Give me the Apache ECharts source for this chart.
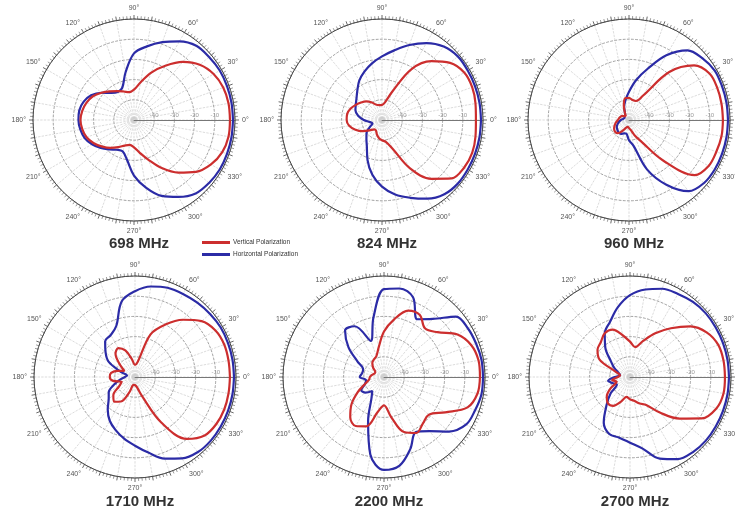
<!DOCTYPE html>
<html>
<head>
<meta charset="utf-8">
<script src="https://cdn.jsdelivr.net/npm/echarts@6/dist/echarts.min.js"></script>
<style>
html, body { margin: 0; padding: 0; background: #fff; }
#chart { width: 735px; height: 512px; }
</style>
</head>
<body>
<div id="chart"></div>
<script>
// azimuth in degrees, level in dB (0 = peak)
const angles = [0, 10, 20, 30, 40, 50, 60, 70, 80, 90, 100, 110, 120, 130, 140, 150, 160, 170,
  180, 190, 200, 210, 220, 230, 240, 250, 260, 270, 280, 290, 300, 310, 320, 330, 340, 350]

const freqs = ['698 MHz', '824 MHz', '960 MHz', '1710 MHz', '2200 MHz', '2700 MHz']

const vert698 = [-2.5, -2.5, -3, -4.5, -7.5, -12.5, -19, -25, -31, -35, -36, -35, -33.5, -31.5, -29, -26.5, -25, -24,
  -23.5, -24, -25, -27, -29.5, -32, -34.5, -36.5, -37.5, -36.5, -33.5, -29, -22.5, -16, -10, -6, -3.5, -2.5]
const horz698 = [-1, -1, -1, -1, -1.5, -2, -5, -9, -13, -17, -26, -33, -34, -32.5, -29, -25.5, -23.5, -22.5,
  -22.5, -23, -24, -26, -28.5, -31, -33, -33.5, -30, -22.5, -16, -10, -6, -2.5, -1.5, -1, -1, -1]

const vert824 = [-3.5, -3, -2.5, -3, -6, -12, -21, -35, -41, -42.5, -42.5, -42, -40, -38, -36.5, -35, -33.5, -32.5,
  -32.5, -33.5, -36, -39, -42, -44, -44, -42.5, -41, -40, -39, -35, -22.5, -12, -5, -3, -2.5, -3]
const horz824 = [-1, -1, -1, -1, -1, -2.5, -6, -10.5, -15, -18.5, -21.5, -24.5, -27.5, -31, -33.5, -35, -36, -38,
  -41, -44, -45, -43, -40, -38, -35, -29, -22.5, -17, -12.5, -9, -5, -2, -1, -1, -1, -1]

const vert960 = [-3.5, -3.5, -3.5, -4, -8, -19, -36, -40, -40, -39, -39, -42.5, -46, -47.5, -47, -46, -45.5, -45,
  -44.5, -43.5, -42.5, -41.5, -41, -41.5, -44, -46, -46.5, -46, -45, -42, -37.5, -24, -7.5, -4.5, -4, -3.5]
const horz960 = [-1, -1, -1, -1, -2.5, -5, -13, -23, -30, -36, -40, -43, -46, -47, -47, -47.5, -47.5, -47,
  -46, -45, -44, -43, -42.5, -42, -42, -43, -43, -40, -37, -24, -13, -4, -1.5, -1, -1, -1]

const vert1710 = [-3, -3, -3, -4, -7, -13, -20, -27.5, -42.5, -44, -41, -36, -33.5, -35, -40, -44, -41, -38,
  -37.5, -39, -43, -41, -36, -34, -36, -42, -46, -46, -45, -40, -24, -10, -5, -3.5, -3, -3]
const horz1710 = [-1, -1, -1, -1, -1.5, -2, -2.5, -3, -4.5, -7.5, -12, -23, -26, -27, -31, -35, -42.5, -46,
  -45, -42.5, -39, -35, -33, -29, -25, -22, -19, -16, -12, -7, -3.5, -1.5, -1, -1, -1, -1]

const vert2200 = [-2.5, -2.5, -4, -8, -15.5, -18.5, -14.5, -15, -21, -27.5, -35, -39, -40, -41, -43, -45, -45, -44,
  -43, -42.5, -40, -35, -29, -24, -22, -24, -32.5, -36, -30, -21, -18, -20, -21, -15, -6, -3]
const horz2200 = [-1, -1, -1.5, -2, -3.5, -12.5, -17, -8, -5.5, -6.5, -20, -31, -21, -20, -27, -35, -39, -39,
  -38, -41, -40, -37, -38, -41, -37.5, -27, -11, -4, -5.5, -12, -18.5, -15, -8, -3, -2, -1]

const vert2700 = [-3, -3, -3.5, -6, -11, -18.5, -25, -31, -35, -32.5, -29, -25, -25, -27.5, -29, -32.5, -42.5, -45,
  -44, -41, -43, -39, -35, -33, -33.5, -37, -40, -39, -38, -36, -34, -27, -18, -9, -4.5, -3]
const horz2700 = [-1, -1, -1, -1, -1, -1.5, -2.5, -3.5, -6, -9.5, -15, -21, -25, -31, -37.5, -41, -44, -45,
  -42.5, -39, -41, -42.5, -37.5, -32, -24, -20, -19.5, -17.5, -14, -7, -3, -1.5, -1, -1, -1, -1]

const vertData = [vert698, vert824, vert960, vert1710, vert2200, vert2700]
const horzData = [horz698, horz824, horz960, horz1710, horz2200, horz2700]

// layout of the six plots
const centers = [[134, 120], [382, 120], [629, 120], [135, 377], [384, 377], [630, 377]]
const plotRadius = 101
const titleTops = [231, 231, 231, 489, 489, 489]

function toPolar(vals) {
  const pts = angles.map((a, i) => [vals[i], a])
  pts.push([vals[0], 360])
  return pts
}

const chart = echarts.init(document.getElementById('chart'))

const polar = []
const angleAxis = []
const radiusAxis = []
const series = []
const title = []

centers.forEach((c, i) => {
  polar.push({ center: c, radius: plotRadius })
  angleAxis.push({
    polarIndex: i,
    type: 'value',
    min: 0,
    max: 360,
    interval: 10,
    startAngle: 0,
    clockwise: false,
    axisLine: { lineStyle: { color: '#444', width: 1 } },
    axisTick: { show: true, length: 4, lineStyle: { color: '#444', width: 0.8 } },
    minorTick: { show: true, splitNumber: 5, length: 3, lineStyle: { color: '#555', width: 0.6 } },
    axisLabel: {
      margin: 7,
      fontSize: 7,
      color: '#555',
      formatter: function(v) {
        return (v % 30 === 0 && v !== 360) ? v + '°' : ''
      }
    },
    splitLine: { show: true, lineStyle: { color: '#c4c4c4', width: 0.6, type: 'dashed' } }
  })
  radiusAxis.push({
    polarIndex: i,
    type: 'value',
    min: -50,
    max: 0,
    interval: 10,
    axisLine: { show: true, lineStyle: { color: '#777', width: 1 } },
    axisTick: { show: false },
    axisLabel: {
      fontSize: 6,
      color: '#999',
      margin: 2,
      formatter: function(v) {
        return (v > -50 && v < 0) ? String(v) : ''
      }
    },
    splitLine: { show: true, lineStyle: { color: '#7a7a7a', width: 0.7, type: 'dashed' } }
  })
  series.push({
    name: 'Horizontal Polarization',
    type: 'line',
    coordinateSystem: 'polar',
    polarIndex: i,
    smooth: 0.35,
    symbol: 'none',
    lineStyle: { color: '#2b2ba6', width: 2.2 },
    itemStyle: { color: '#2b2ba6' },
    data: toPolar(horzData[i])
  })
  series.push({
    name: 'Vertical Polarization',
    type: 'line',
    coordinateSystem: 'polar',
    polarIndex: i,
    smooth: 0.35,
    symbol: 'none',
    lineStyle: { color: '#cc2e2e', width: 2.2 },
    itemStyle: { color: '#cc2e2e' },
    data: toPolar(vertData[i])
  })
  title.push({
    text: freqs[i],
    left: c[0],
    top: titleTops[i],
    textAlign: 'center',
    textStyle: { fontSize: 15, fontWeight: 'bold', color: '#333', fontFamily: 'Liberation Sans' }
  })
})

chart.setOption({
  animation: false,
  title: title,
  legend: {
    orient: 'vertical',
    left: 197,
    top: 234,
    itemWidth: 28,
    itemHeight: 3,
    itemGap: 5,
    icon: 'rect',
    textStyle: { fontSize: 6.5, color: '#333', padding: [0, 0, 0, -2] },
    data: ['Vertical Polarization', 'Horizontal Polarization']
  },
  polar: polar,
  angleAxis: angleAxis,
  radiusAxis: radiusAxis,
  series: series
})
</script>
</body>
</html>
